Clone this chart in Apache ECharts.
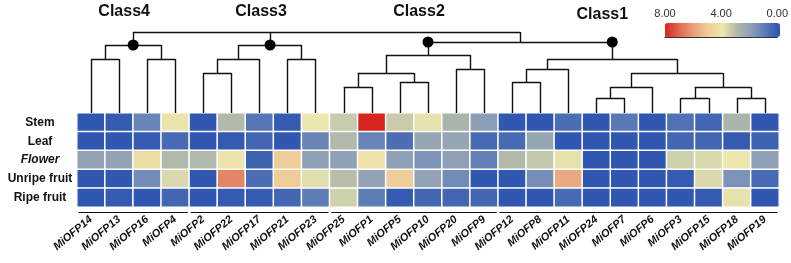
<!DOCTYPE html>
<html>
<head>
<meta charset="utf-8">
<script src="https://cdn.jsdelivr.net/npm/echarts@6/dist/echarts.min.js"></script>
<style>
  html, body { margin: 0; padding: 0; background: #fff; }
  #chart { width: 791px; height: 263px; }
</style>
</head>
<body>
<div id="chart"></div>
<script>
// 列：基因；行：组织
const genes = ['MiOFP14', 'MiOFP13', 'MiOFP16', 'MiOFP4', 'MiOFP2', 'MiOFP22', 'MiOFP17', 'MiOFP21', 'MiOFP23',
  'MiOFP25', 'MiOFP1', 'MiOFP5', 'MiOFP10', 'MiOFP20', 'MiOFP9',
  'MiOFP12', 'MiOFP8', 'MiOFP11', 'MiOFP24', 'MiOFP7', 'MiOFP6', 'MiOFP3', 'MiOFP15', 'MiOFP18', 'MiOFP19']
const tissues = ['Stem', 'Leaf', 'Flower', 'Unripe fruit', 'Ripe fruit']

// 表达量（每行一个组织）
const stemValues = [0.1, 0.2, 1.3, 4.1, 0.1, 3.0, 0.9, 0.2, 4.0, 3.4, 8.0, 3.4, 3.9, 2.8, 2.0, 0.1, 0.1, 0.7, 0.1, 1.0, 0.1, 0.8, 0.5, 2.8, 0.1]
const leafValues = [0.1, 0.1, 0.2, 0.6, 0.1, 0.2, 0.5, 0.1, 1.3, 3.0, 1.3, 0.7, 2.3, 2.3, 0.6, 0.6, 2.3, 0.1, 0.1, 0.1, 0.1, 0.5, 0.5, 0.2, 0.4]
const flowerValues = [2.2, 2.2, 4.4, 3.0, 3.0, 4.1, 0.4, 5.0, 2.1, 2.1, 4.2, 2.1, 1.7, 2.1, 1.2, 3.0, 3.3, 3.9, 0.1, 0.1, 0.1, 3.5, 3.7, 4.0, 2.1]
const unripeValues = [0.1, 0.1, 1.5, 3.7, 0.1, 6.5, 0.7, 5.0, 3.8, 3.1, 2.2, 5.0, 2.2, 1.5, 0.1, 0.1, 1.6, 5.8, 0.1, 0.1, 0.1, 0.2, 3.7, 1.7, 0.6]
const ripeValues = [0.1, 0.2, 0.1, 0.5, 0.1, 0.2, 0.2, 0.5, 1.1, 3.5, 1.1, 0.2, 0.5, 0.5, 0.5, 0.1, 0.1, 0.6, 0.1, 0.1, 0.1, 0.1, 0.2, 3.9, 0.1]
const rowValues = [stemValues, leafValues, flowerValues, unripeValues, ripeValues]

// 聚类树（叶子为列序号，h 为合并高度）
const class4Tree = { h: 68, dot: true, c: [{ h: 54, c: [0, 1] }, { h: 54, c: [2, 3] }] }
const class3Tree = { h: 68, dot: true, c: [{ h: 54, c: [{ h: 40, c: [4, 5] }, 6] }, { h: 54, c: [7, 8] }] }
const class2Tree = { h: 71, dot: true, c: [{ h: 58, c: [{ h: 40, c: [{ h: 26, c: [9, 10] }, { h: 31, c: [11, 12] }] }, { h: 44, c: [13, 14] }] }] }
const class1Tree = { h: 71, dot: true, c: [{ h: 54, c: [
  { h: 44, c: [{ h: 31, c: [15, 16] }, 17] },
  { h: 40, c: [{ h: 26, c: [{ h: 15, c: [18, 19] }, 20] }, { h: 26, c: [{ h: 15, c: [21, 22] }, { h: 15, c: [23, 24] }] }] }
] }] }
const rootTree = { h: 81, c: [class4Tree, class3Tree, { h: 71, c: [class2Tree, class1Tree] }] }

const classNames = ['Class4', 'Class3', 'Class2', 'Class1']
const classTrees = [class4Tree, class3Tree, class2Tree, class1Tree]
const classRanges = [[0, 3], [4, 8], [9, 14], [15, 24]]

// 色标
const colorTicks = [0, 4, 8]
const scaleColors = ['#2b53b0', '#5a79b6', '#8b9eb8', '#b1b9aa', '#ece7ae', '#f0cc98', '#e9a07a', '#e06a50', '#d7261e']

const FONT = "'Liberation Sans', Arial, sans-serif"

// 热图数据
const heatData = []
rowValues.forEach((row, y) => row.forEach((v, x) => heatData.push([x, y, v])))

// 计算聚类树线段
const treeSegments = []
const dots = []
const layout = (node) => {
  if (typeof node === 'number') return { x: node, h: 0 }
  const kids = node.c.map(layout)
  kids.forEach(k => treeSegments.push({ coords: [[k.x, k.h], [k.x, node.h]] }))
  const xs = kids.map(k => k.x)
  const minX = Math.min(...xs)
  const maxX = Math.max(...xs)
  if (maxX > minX) treeSegments.push({ coords: [[minX, node.h], [maxX, node.h]] })
  const x = node.c.length > 1 && node !== rootTree ? (minX + maxX) / 2 : xs[0]
  node.x = x
  if (node.dot) dots.push([x, node.h])
  return { x, h: node.h }
}
layout(rootTree)

const underlineSegments = classRanges.map(r => ({ coords: [[r[0] - 0.45, 0.5], [r[1] + 0.45, 0.5]] }))
const classLabelData = classTrees.map((t, i) => ({
  value: [t.x, 102],
  label: { formatter: classNames[i], offset: i === 3 ? [-10, 4] : [-9, 1] }
}))

const chart = echarts.init(document.getElementById('chart'))
const option = {
  animation: false,
  textStyle: { fontFamily: FONT },
  grid: [
    { left: 77, right: 12, top: 113, bottom: 56 },        // 热图
    { left: 77, right: 12, top: 0, height: 113 },          // 聚类树
    { left: 77, right: 12, top: 211, height: 2 },          // 分组下划线
    { left: 665, width: 115, top: 23, height: 14 }         // 色标刻度
  ],
  xAxis: [
    {
      type: 'category', gridIndex: 0, data: genes,
      axisLine: { show: false }, axisTick: { show: false },
      axisLabel: { interval: 0, rotate: 40, margin: 11, fontSize: 11, fontWeight: 'bold', fontStyle: 'italic', color: '#111', fontFamily: FONT }
    },
    { type: 'value', gridIndex: 1, min: -0.5, max: 24.5, show: false },
    { type: 'value', gridIndex: 2, min: -0.5, max: 24.5, show: false },
    {
      type: 'value', gridIndex: 3, min: 0, max: 8, interval: 1, inverse: true, position: 'top',
      axisLine: { show: true, lineStyle: { color: '#333', width: 1 } },
      axisTick: { show: true, length: 3, lineStyle: { color: '#333' } },
      splitLine: { show: false },
      axisLabel: {
        margin: 4, fontSize: 11, color: '#333', fontFamily: FONT,
        formatter: v => colorTicks.includes(v) ? v.toFixed(2) : ''
      }
    }
  ],
  yAxis: [
    {
      type: 'category', gridIndex: 0, data: tissues, inverse: true,
      axisLine: { show: false }, axisTick: { show: false },
      axisLabel: {
        align: 'center', margin: 37, fontSize: 12, fontWeight: 'bold', color: '#111', fontFamily: FONT,
        formatter: v => v === 'Flower' ? '{it|' + v + '}' : v,
        rich: { it: { fontStyle: 'italic', fontWeight: 'bold', fontSize: 12, color: '#111', fontFamily: FONT } }
      }
    },
    { type: 'value', gridIndex: 1, min: 0, max: 113, show: false },
    { type: 'value', gridIndex: 2, min: 0, max: 1, show: false },
    { type: 'value', gridIndex: 3, min: 0, max: 1, show: false }
  ],
  visualMap: {
    type: 'continuous', min: 0, max: 8, seriesIndex: 0,
    orient: 'horizontal', inverse: true, calculable: false, hoverLink: false,
    left: 665, top: 23, itemWidth: 14, itemHeight: 115, padding: 0,
    text: null, showLabel: false,
    inRange: { color: scaleColors }
  },
  series: [
    {
      type: 'heatmap', xAxisIndex: 0, yAxisIndex: 0, data: heatData,
      itemStyle: { borderColor: '#fff', borderWidth: 1.5 },
      emphasis: { disabled: true }
    },
    {
      type: 'lines', coordinateSystem: 'cartesian2d', xAxisIndex: 1, yAxisIndex: 1,
      data: treeSegments, silent: true,
      lineStyle: { color: '#111', width: 1.4, opacity: 1 }
    },
    {
      type: 'scatter', xAxisIndex: 1, yAxisIndex: 1, data: dots, silent: true,
      symbolSize: 11, itemStyle: { color: '#000', opacity: 1 }
    },
    {
      type: 'scatter', xAxisIndex: 1, yAxisIndex: 1, data: classLabelData, silent: true,
      symbolSize: 0, clip: false, itemStyle: { opacity: 1 },
      label: { show: true, position: 'inside', fontSize: 16, fontWeight: 'bold', color: '#111', opacity: 1, fontFamily: FONT }
    },
    {
      type: 'lines', coordinateSystem: 'cartesian2d', xAxisIndex: 2, yAxisIndex: 2,
      data: underlineSegments, silent: true,
      lineStyle: { color: '#111', width: 1.2, opacity: 1 }
    }
  ]
}
chart.setOption(option)
</script>
</body>
</html>
